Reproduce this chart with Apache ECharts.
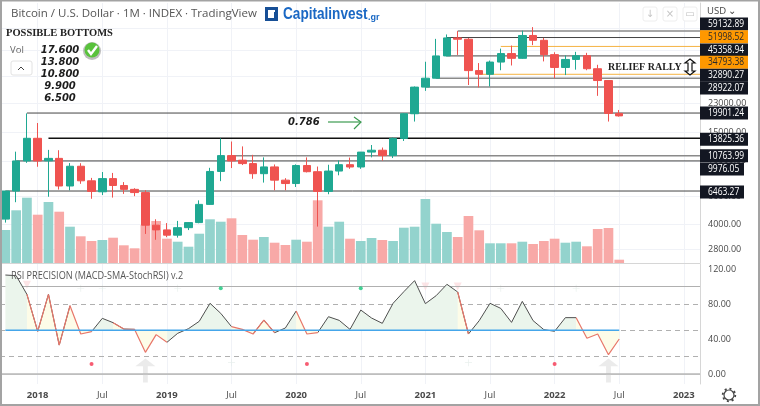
<!DOCTYPE html>
<html><head><meta charset="utf-8">
<style>html,body{margin:0;padding:0;background:#fff}#c{width:760px;height:406px}</style>
<script src="https://cdn.jsdelivr.net/npm/echarts@6/dist/echarts.min.js"></script></head>
<body><div id="c"></div>
<script>
// ---------- data ----------
const months = [];
for (let y = 2017, m = 10; months.length < 65; m++) { if (m > 12) { m = 1; y++; } months.push(y + '-' + String(m).padStart(2, '0')); }
const opens  = [4310,6463,9976,13825,9990,10350,6950,9240,7490,6390,7730,7000,6620,6320,3950,3690,3420,3810,4100,5330,8570,10770,10080,9600,8300,9150,7560,7200,9340,8540,6430,8620,9450,9140,11330,11640,10770,13800,19700,28922,32890,45358,58800,57700,36700,34793,41500,46900,43800,60900,56800,46200,38400,43100,45500,37700,31800,19800];
const closes = [6463,9976,13825,9976,10350,6950,9240,7490,6430,7730,7000,6620,6320,3950,3690,3420,3810,4100,5330,8570,10770,9980,9600,8300,9150,7560,7200,9340,8540,6430,8620,9450,9140,11330,11640,10770,13800,19700,28922,32890,45358,58800,57700,36700,34793,41500,46900,43800,60900,56800,46200,38400,43100,45500,37700,31800,19800,19100];
const lows   = [4100,5500,9700,9170,5950,6600,6530,7170,5780,6100,5880,6200,6000,3480,3200,3320,3300,3680,4060,5300,7450,9000,9400,7710,7300,6530,6530,6850,8450,3870,6170,8110,8900,8900,10500,10010,10400,13300,17600,27400,32800,45000,46000,29800,28800,29200,36900,39500,43500,53000,41900,32900,34400,37200,36900,25500,17600,18900];
const highs  = [6470,11400,19800,17230,11700,11640,9670,9650,7810,8500,8390,7350,6730,6540,4300,4070,4200,4130,5650,9030,13800,13200,12300,10890,10500,9480,7780,9490,10500,9200,9440,10050,10470,11350,12550,12100,14000,19850,29200,41700,58000,61800,64900,58700,40900,42400,50400,52700,65300,68700,58800,47800,45700,48100,47400,39900,31900,20800];
const volumes = [33,52.7,65.3,48.3,61,51.3,36.3,26.7,22,23,25.3,17.7,14.7,38,42,24.3,21.3,16.3,29.3,43.7,41.3,44.7,28,23.3,26,20.3,18,23.3,21.3,62.7,36.3,41.3,24.3,22,25,23,22,35.3,36.3,64,39.3,31,26,47,32.7,19.7,19.7,19.7,21.3,19,22,24.3,20.3,21.3,16.7,34,35,3.3];
const rsiValues = [113.1,112.4,91,48.8,91,33.1,78.1,45.7,48.4,63.6,58.7,51.4,51,24.8,45,36.2,46.5,51.8,60.2,80.8,69.3,54.1,51,45.7,61.7,47.2,52.6,72,45.7,47.2,65.5,61.3,51,73.1,64,57.9,80.8,94.1,106.7,80.4,89.5,102.5,93.7,45.7,61,80.8,75,59,83,61,50.7,48.8,64.4,64.4,40.8,45.7,22.1,40];
// months whose incoming RSI segment is falling (drawn in salmon)
const rsiFallingMonths = ['2018-01','2018-03','2018-05','2018-06','2018-09','2018-11','2018-12','2019-01','2019-08','2019-09','2019-11','2020-02','2020-03','2021-05','2022-04','2022-05','2022-06','2022-07'];
const rsiGreenDots = [['2019-06',98],['2020-07',98]];
const rsiRedDots = [['2018-06',11.4],['2020-02',11.4],['2022-01',11.4]];
const rsiPalePlus = [['2018-05',98],['2018-07',98],['2019-02',98],['2019-07',13],['2021-08',98],['2022-03',98],['2021-05',13]];
const rsiPaleTri = [['2017-12',102],['2021-01',100],['2021-04',100]];
const rsiPaleArrows = [['2018-11',4],['2022-06',4]];
const levelValues = [64900,59132.89,51998.52,45358.94,34793.38,32890.27,28922.07,19901.24,13825.36,10763.99,9976.05,6463.27];
const levelStarts = ['2021-04','2021-03','2021-08','2021-03','2021-06','2021-02','2021-01','2017-12','2018-02','2019-07','2017-11','2017-10'];
const levelKinds  = ['grey','dark','orange','dark','orange','grey','grey','dark','black','grey','dark','dark'];
const levelLabelled = [false,true,true,true,true,true,true,true,true,true,true,true];
const priceTicks = [2800,4000,6000,10000,15000,23000,34000,49000,68000];
const rsiTicks = [0,40,80,120];
const bottoms = ['17.600','13.800','10.800','9.900','6.500'];
// ---------- layout of the stacked price tags (pixels from their own price) ----------
const levelLabelShift = [0,-13.5,-9.7,-6,-12,-3,1,0,1,0,8,1];
const kindStyle = {
  grey:{color:'#8a8a8a',width:1.5}, dark:{color:'#454545',width:1},
  orange:{color:'#f5b342',width:1}, black:{color:'#111',width:1.5}
};
const UP='#1fa892', DOWN='#ef5350';
const FONT='"Open Sans"';
const isFalling = i => rsiFallingMonths.includes(months[i]);
const rsiDark = months.map(()=>null), rsiRed = months.map(()=>null);
for (let i=0;i<rsiValues.length;i++){
  const seg = i+1<rsiValues.length ? isFalling(i+1) : null, prev = i>0 ? isFalling(i) : null;
  rsiDark[i] = (seg===false||prev===false) ? rsiValues[i] : null;
  rsiRed[i]  = (seg===true ||prev===true ) ? rsiValues[i] : null;
}
const isMajor = v => /-(01|07)$/.test(v);
const splitInt = (i,v)=>isMajor(v);
const grid = '#f0f2f7', txt='#4a4a4a';
const plusPath='path://M45 0h10v45h45v10h-45v45h-10v-45h-45v-10h45z';
const arrowPath='path://M50 0L100 35H62V110H38V35H0z';

const levelLines = {
  type:'custom', xAxisIndex:0, yAxisIndex:0, z:1, silent:true,
  data: levelValues.map((v,i)=>[months.indexOf(levelStarts[i]),v,i]),
  encode:{x:0,y:1},
  renderItem(p,api){
    const c=api.coord([api.value(0),api.value(1)]), s=kindStyle[levelKinds[api.value(2)]];
    return {type:'line',shape:{x1:c[0],y1:c[1],x2:p.coordSys.x+p.coordSys.width,y2:c[1]},style:{stroke:s.color,lineWidth:s.width}};
  }
};
const levelTags = {
  type:'custom', xAxisIndex:0, yAxisIndex:0, z:20, silent:true, clip:false,
  data: levelValues.map((v,i)=>[months.indexOf(levelStarts[i]),v,i]),
  encode:{x:0,y:1},
  renderItem(p,api){
    const i=api.value(2); if(!levelLabelled[i]) return;
    const c=api.coord([api.value(0),api.value(1)]), y=c[1]+levelLabelShift[i];
    const x=p.coordSys.x+p.coordSys.width, text=levelValues[i].toFixed(2), o=levelKinds[i]==='orange';
    return {type:'group',children:[
      {type:'rect',shape:{x:x,y:y-6.5,width:text.length>7?48:44,height:13},style:{fill:o?'#ff9800':'#131722'}},
      {type:'text',x:x+8,y:y,scaleX:0.77,style:{text:text,fill:o?'#2a2a2a':'#fff',font:'11px '+FONT,verticalAlign:'middle',align:'left'}}
    ]};
  }
};
const scatter=(data,symbol,size,color,z)=>({type:'scatter',xAxisIndex:1,yAxisIndex:2,data,symbol,symbolSize:size,itemStyle:{color},z:z||5,silent:true});
const text=(t,x,y,font,fill,extra)=>Object.assign({type:'text',x,y,z:30,style:{text:t,font,fill,verticalAlign:'middle'}},extra||{});

const chart=echarts.init(document.getElementById('c'),null,{renderer:'canvas'});
chart.setOption({
  animation:false, backgroundColor:'#fff', tooltip:{show:false},
  grid:[{left:0,top:3,width:700,height:260},{left:0,top:264,width:700,height:120}],
  xAxis:[
    {type:'category',gridIndex:0,data:months,axisLabel:{show:false},axisTick:{show:false},
     axisLine:{show:true,lineStyle:{color:'#d6d6d6'}},splitLine:{show:true,interval:splitInt,alignWithLabel:true,lineStyle:{color:grid}}},
    {type:'category',gridIndex:1,data:months,axisLine:{show:true,lineStyle:{color:'#d0d0d0'}},
     axisTick:{show:false,alignWithLabel:true,interval:splitInt},
     splitLine:{show:true,interval:splitInt,alignWithLabel:true,lineStyle:{color:grid}},
     axisLabel:{interval:splitInt,margin:6,color:txt,fontFamily:'Open Sans',fontSize:9.5,
       formatter:v=>v.endsWith('-07')?'Jul':'{b|'+v.slice(0,4)+'}',rich:{b:{fontWeight:'bold',fontSize:9.5,color:txt,fontFamily:'Open Sans'}}}}
  ],
  yAxis:[
    {type:'log',logBase:10,gridIndex:0,position:'right',min:2289,max:97280,
     axisLine:{show:true,lineStyle:{color:'#d6d6d6'}},axisTick:{show:false,customValues:priceTicks},
     splitLine:{show:true,lineStyle:{color:grid}},minorSplitLine:{show:false},
     axisLabel:{customValues:priceTicks,margin:8,color:txt,fontFamily:'Open Sans',fontSize:9,formatter:v=>Number(v).toFixed(2),showMinLabel:true,showMaxLabel:true}},
    {type:'value',gridIndex:0,min:0,max:260,show:false,splitLine:{show:false}},
    {type:'value',gridIndex:1,position:'right',min:-11.4,max:125.7,
     axisLine:{show:true,lineStyle:{color:'#d6d6d6'}},axisTick:{show:false,customValues:rsiTicks},
     splitLine:{show:false},axisLabel:{customValues:rsiTicks,margin:8,color:txt,fontFamily:'Open Sans',fontSize:9,formatter:v=>Number(v).toFixed(2)}}
  ],
  series:[
    {type:'bar',xAxisIndex:0,yAxisIndex:1,barCategoryGap:'10%',z:1,silent:true,
     data:volumes.map((v,i)=>({value:v,itemStyle:{color:closes[i]>=opens[i]?'#93d3cd':'#f8a9a7'}}))},
    levelLines,
    {type:'candlestick',xAxisIndex:0,yAxisIndex:0,barWidth:8,z:3,silent:true,
     data:opens.map((o,i)=>[o,closes[i],lows[i],highs[i]]),
     itemStyle:{color:UP,color0:DOWN,borderColor:UP,borderColor0:DOWN,borderWidth:1}},
    levelTags,
    {type:'line',xAxisIndex:1,yAxisIndex:2,data:months.map(()=>null),symbol:'none',silent:true,z:2,
     markLine:{silent:true,symbol:'none',label:{show:false},data:[
       {yAxis:100,lineStyle:{color:'#b0b0b0',type:'solid',width:1}},
       {yAxis:0,lineStyle:{color:'#b8b8b8',type:'solid',width:1.5}},
       {yAxis:80,lineStyle:{color:'#b0b0b0',type:[5,4],width:1}},
       {yAxis:50,lineStyle:{color:'#b0b0b0',type:[5,4],width:1}},
       {yAxis:20,lineStyle:{color:'#b0b0b0',type:[5,4],width:1}}
     ]}},
    {type:'line',name:'rsiDark',xAxisIndex:1,yAxisIndex:2,data:rsiDark,symbol:'none',connectNulls:false,z:6,silent:true,
     lineStyle:{color:'#4f4f4f',width:1},areaStyle:{origin:50,color:'#ebf5ec',opacity:1}},
    {type:'line',name:'rsiRed',xAxisIndex:1,yAxisIndex:2,data:rsiRed,symbol:'none',connectNulls:false,z:6,silent:true,
     lineStyle:{color:'#e8776a',width:1.2},areaStyle:{origin:50,color:'#fdfce8',opacity:1}},
    {type:'line',name:'rsiBase',xAxisIndex:1,yAxisIndex:2,data:rsiValues.map(()=>50),symbol:'none',z:7,silent:true,lineStyle:{color:'#45a6ea',width:1.5}},
    scatter(rsiGreenDots,'circle',4,'#14c77a',8),
    scatter(rsiRedDots,'circle',4,'#f5334f',8),
    scatter(rsiPalePlus,plusPath,7,'#e4ece9',4),
    scatter(rsiPaleTri,'path://M0 0H100L50 90Z',8,'#fbdde0',4),
    scatter(rsiPaleArrows,arrowPath,[20,24],'#e6e6e6',4)
  ],
  graphic:[
    {type:'rect',z:40,silent:true,shape:{x:1,y:0.5,width:758,height:404.5},style:{fill:'none',stroke:'#a3a3a3',lineWidth:2}},
    text('Bitcoin / U.S. Dollar · 1M · INDEX · TradingView',11,14,'11.5px "Open Sans"','#555'),
    {type:'rect',z:30,shape:{x:265,y:7,width:13,height:14},style:{fill:'#174f96'}},
    {type:'rect',z:31,shape:{x:268,y:10,width:7,height:8},style:{fill:'#fff'}},
    {type:'rect',z:32,shape:{x:274,y:12,width:4,height:9},style:{fill:'#174f96'}},
    text('Capitalinvest',283,15,'bold 16px "Liberation Sans"','#1a68c4',{scaleX:0.85}),
    text('.gr',368,18,'bold 9px "Liberation Sans"','#1a68c4'),
    text('USD ⌄',707,11,'9.5px '+FONT,'#444'),
    ...[650,670,690].map(cx=>({type:'rect',z:30,shape:{x:cx-7,y:7,width:14,height:14,r:2},style:{fill:'#fff',stroke:'#eeeeee'}})),
    ...[[650,'↓'],[670,'×'],[690,'▭']].map(a=>({type:'text',z:31,x:a[0],y:14,style:{text:a[1],font:'10px "DejaVu Sans"',fill:'#c4c4c4',align:'center',verticalAlign:'middle'}})),
    text('POSSIBLE BOTTOMS',6,33,'bold 10.5px "Liberation Serif"','#222'),
    text('Vol',10,50,'9.5px '+FONT,'#666'),
    {type:'rect',z:30,shape:{x:11,y:61,width:21,height:14,r:2},style:{fill:'#fff',stroke:'#e2e2e2'}},
    {type:'polyline',z:31,shape:{points:[[18,70],[21,67],[24,70]]},style:{fill:'none',stroke:'#444',lineWidth:1}},
    ...bottoms.map((b,i)=>({type:'text',z:30,x:60,y:50+i*12,style:{text:b,font:'italic bold 10px "DejaVu Sans"',fill:'#1c1c1c',align:'center',verticalAlign:'middle'}})),
    {type:'circle',z:30,shape:{cx:92,cy:51,r:9},style:{fill:'#bdbdbd'}},
    {type:'circle',z:31,shape:{cx:92,cy:50,r:7.5},style:{fill:'#59c23c'}},
    {type:'polyline',z:32,shape:{points:[[88,50],[91,54],[97,46]]},style:{fill:'none',stroke:'#fff',lineWidth:2.4}},
    text('0.786',288,122,'italic bold 10px "DejaVu Sans"','#1c1c1c'),
    {type:'line',z:30,shape:{x1:328,y1:122,x2:360,y2:122},style:{stroke:'#3c9a50',lineWidth:1.2}},
    {type:'polyline',z:30,shape:{points:[[354,117],[361,122],[354,129]]},style:{fill:'none',stroke:'#3c9a50',lineWidth:1.2}},
    text('RELIEF RALLY',608,67,'bold 10px "Liberation Serif"','#222'),
    {type:'polygon',z:30,shape:{points:[[690,59],[695,63],[692,63],[692,71],[695,71],[690,75],[685,71],[688,71],[688,63],[685,63]]},style:{fill:'#fff',stroke:'#111',lineWidth:1.2}},
    text('RSI PRECISION (MACD-SMA-StochRSI) v.2',11,276,'10.5px "Open Sans"','#555',{scaleX:0.87}),
    {type:'circle',z:30,shape:{cx:729,cy:395,r:5},style:{fill:'none',stroke:'#444',lineWidth:1.2}},
    {type:'circle',z:30,shape:{cx:729,cy:395,r:6.3},style:{fill:'none',stroke:'#444',lineWidth:1.8,lineDash:[2,2.9]}}
  ]
});
</script></body></html>
